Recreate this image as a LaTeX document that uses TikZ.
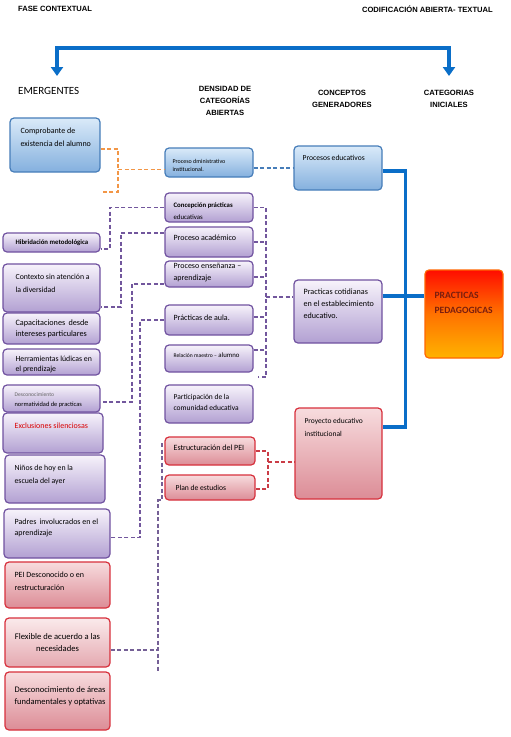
\documentclass[tikz,border=0pt]{standalone}
\usepackage{fontspec}
\setmainfont{Carlito}
\newfontfamily\headfont{Liberation Sans}
\usetikzlibrary{arrows.meta}

\definecolor{azul}{RGB}{10,110,200}
\definecolor{azulborde}{RGB}{70,125,185}
\definecolor{azulclaro}{RGB}{218,234,249}
\definecolor{azulfondo}{RGB}{132,176,222}
\definecolor{lila}{RGB}{112,82,160}
\definecolor{lilaclaro}{RGB}{247,243,251}
\definecolor{lilafondo}{RGB}{178,160,210}
\definecolor{rojo}{RGB}{215,48,60}
\definecolor{rosaclaro}{RGB}{247,220,222}
\definecolor{rosafondo}{RGB}{220,140,150}
\definecolor{naranja}{RGB}{242,150,70}
\definecolor{cafe}{RGB}{120,30,15}

\begin{document}
\begin{tikzpicture}[x=1pt, y=-1pt,
    box/.style={rounded corners=4pt, line width=1.2pt, inner sep=0pt},
    bbox/.style={box, draw=azulborde, top color=azulclaro, bottom color=azulfondo},
    pbox/.style={box, draw=lila, top color=lilaclaro, bottom color=lilafondo},
    rbox/.style={box, draw=rojo, top color=rosaclaro, bottom color=rosafondo},
    txt/.style={font=\fontsize{8}{12}\selectfont, align=left, inner sep=0pt},
    ltxt/.style={txt, anchor=west},
    intxt/.style={txt, anchor=north west},
    head/.style={font=\headfont\bfseries\fontsize{7.6}{12}\selectfont, align=center, inner sep=0pt},
    bline/.style={draw=azul, line width=3.5pt},
    barr/.style={bline, {Triangle[width=12pt,length=9pt]}-{Triangle[width=12pt,length=9pt]}},
    dsh/.style={dash pattern=on 4pt off 2.5pt, line width=1.3pt},
    odash/.style={dsh, draw=naranja},
    bdash/.style={dsh, draw=azulborde},
    pdash/.style={dsh, draw=lila!90!gray},
    gdash/.style={dsh, draw=lila!70!gray},
    rdash/.style={dsh, draw=rojo!85!gray}
]
\useasboundingbox (0,0) rectangle (511,737);

% titles
\node[head, anchor=west] (fase) at (18,9) {FASE CONTEXTUAL};
\node[head, anchor=east] (codif) at (493,9) {CODIFICACIÓN ABIERTA- TEXTUAL};
\coordinate (fl) at (57,76);
\coordinate (fr) at (449,76);
\draw[barr] (fl) |- (fr |- 0,48) -- (fr);

% column heads
\node[font=\fontsize{11}{13}\selectfont, anchor=west, inner sep=0pt] (emerg) at (18,91) {EMERGENTES};
\node[head] (densid) at (225,101) {DENSIDAD DE\\CATEGORÍAS\\ABIERTAS};
\node[head] (concept) at (342,99) {CONCEPTOS\\GENERADORES};
\node[head] (categ) at (449,99) {CATEGORIAS\\INICIALES};

% emergentes
\node[bbox, minimum width=90, minimum height=54] (compr) at (55,145) {};
\node[pbox, minimum width=97, minimum height=19] (hibrid) at (51.5,242.5) {};
\node[pbox, minimum width=97, minimum height=48] (contexto) at (51.5,288) {};
\node[pbox, minimum width=97, minimum height=31] (capac) at (51.5,328.5) {};
\node[pbox, minimum width=97, minimum height=26] (herram) at (51.5,362) {};
\node[pbox, minimum width=97, minimum height=27] (descnorm) at (51.5,398.5) {};
\node[pbox, minimum width=100, minimum height=40] (exclus) at (53,433) {};
\node[pbox, minimum width=100, minimum height=48] (ninos) at (55,479) {};
\node[pbox, minimum width=106, minimum height=49] (padres) at (57,533.5) {};
\node[rbox, minimum width=105, minimum height=46] (pei) at (57.5,585) {};
\node[rbox, minimum width=105, minimum height=49, top color=rosaclaro!60!white, bottom color=rosafondo!75!white] (flex) at (57.5,642.5) {};
\node[rbox, minimum width=105, minimum height=58] (descareas) at (57.5,701) {};

\node[intxt, font=\fontsize{8}{13}\selectfont] (comprT) at ([xshift=11pt, yshift=-10pt]compr.north west) {Comprobante de\\existencia del alumno};
\node[ltxt, font=\bfseries\fontsize{6.8}{8}\selectfont] (hibridT) at ([xshift=13pt]hibrid.west) {Hibridación metodológica};
\node[ltxt, font=\fontsize{7.8}{13}\selectfont] (contextoT) at ([xshift=13pt, yshift=4.5pt]contexto.west) {Contexto sin atención a\\la diversidad};
\node[ltxt, font=\fontsize{8.2}{10.7}\selectfont] (capacT) at ([xshift=13pt]capac.west) {Capacitaciones\, desde\\intereses particulares};
\node[ltxt, font=\fontsize{7.8}{10}\selectfont] (herramT) at ([xshift=13pt, yshift=-2pt]herram.west) {Herramientas lúdicas en\\el prendizaje};
\node[ltxt, font=\fontsize{6.4}{10.5}\selectfont] (descnormT) at ([xshift=12pt, yshift=-1.5pt]descnorm.west) {{\color{gray!80!black}\fontsize{5.6}{10.5}\selectfont Desconocimiento}\\normatividad de practicas};
\node[intxt, text=red!85!black] (exclusT) at ([xshift=12pt, yshift=-10pt]exclus.north west) {Exclusiones silenciosas};
\node[ltxt, font=\fontsize{7.8}{13.3}\selectfont] (ninosT) at ([xshift=10pt, yshift=4pt]ninos.west) {Niños de hoy en la\\escuela del ayer};
\node[ltxt, font=\fontsize{8}{11}\selectfont] (padresT) at ([xshift=11pt, yshift=6pt]padres.west) {Padres\, involucrados en el\\aprendizaje};
\node[ltxt, font=\fontsize{8}{13}\selectfont] (peiT) at ([xshift=10pt, yshift=3.5pt]pei.west) {PEI Desconocido o en\\restructuración};
\node[txt, align=center, font=\fontsize{8.6}{12}\selectfont] (flexT) at (flex.center) {Flexible de acuerdo a las\\necesidades};
\node[ltxt, font=\fontsize{8.5}{12}\selectfont] (descareasT) at ([xshift=10pt, yshift=5pt]descareas.west) {Desconocimiento de áreas\\fundamentales y optativas};

% densidad de categorias abiertas
\node[bbox, minimum width=88, minimum height=29] (admin) at (209,162.5) {};
\node[pbox, minimum width=88, minimum height=29] (concep) at (209,207.5) {};
\node[pbox, minimum width=88, minimum height=30] (acad) at (209,242) {};
\node[pbox, minimum width=88, minimum height=26] (ensen) at (209,274) {};
\node[pbox, minimum width=88, minimum height=30] (aula) at (209,320) {};
\node[pbox, minimum width=88, minimum height=27] (relac) at (209,358.5) {};
\node[pbox, minimum width=88, minimum height=38] (partic) at (209,404) {};
\node[rbox, minimum width=90, minimum height=28] (estruc) at (210,451) {};
\node[rbox, minimum width=90, minimum height=25] (plan) at (210,487.5) {};

\node[ltxt, font=\fontsize{6}{7.6}\selectfont] (adminT) at ([xshift=8pt, yshift=-3pt]admin.west) {Proceso dministrativo\\institucional.};
\node[ltxt, font=\fontsize{6.8}{11.7}\selectfont] (concepT) at ([xshift=9pt, yshift=-3.5pt]concep.west) {\textbf{Concepción prácticas}\\educativas};
\node[ltxt] (acadT) at ([xshift=9pt, yshift=4pt]acad.west) {Proceso académico};
\node[ltxt, font=\fontsize{8}{11.6}\selectfont] (ensenT) at ([xshift=9pt, yshift=1.5pt]ensen.west) {Proceso enseñanza –\\aprendizaje};
\node[ltxt] (aulaT) at ([xshift=9pt, yshift=2pt]aula.west) {Prácticas de aula.};
\node[ltxt, font=\fontsize{6.8}{9}\selectfont] (relacT) at ([xshift=9pt, yshift=3.5pt]relac.west) {{\fontsize{5.6}{9}\selectfont Relación maestro –} alumno};
\node[ltxt, font=\fontsize{7.5}{11}\selectfont] (particT) at ([xshift=9pt, yshift=1.5pt]partic.west) {Participación de la\\comunidad educativa};
\node[ltxt] (estrucT) at ([xshift=9pt, yshift=3pt]estruc.west) {Estructuración del PEI};
\node[ltxt, font=\fontsize{7.6}{12}\selectfont] (planT) at ([xshift=11pt]plan.west) {Plan de estudios};

% conceptos generadores y categoria inicial
\node[bbox, minimum width=88, minimum height=44] (procesos) at (338,168) {};
\node[pbox, minimum width=88, minimum height=63] (cotid) at (338,311.5) {};
\node[rbox, minimum width=87, minimum height=91] (proy) at (338.5,453.5) {};
\node[box, draw=orange!80!red, top color=red!90!orange, bottom color=orange!60!yellow, middle color=orange!90!red, minimum width=78, minimum height=88] (pract) at (464,314) {};

\node[intxt, font=\fontsize{7.6}{12}\selectfont] (procesosT) at ([xshift=9pt, yshift=-9.5pt]procesos.north west) {Procesos educativos};
\node[intxt, font=\fontsize{8.1}{12}\selectfont] (cotidT) at ([xshift=10pt, yshift=-9pt]cotid.north west) {Practicas cotidianas\\en el establecimiento\\educativo.};
\node[intxt, font=\fontsize{7.5}{12.7}\selectfont] (proyT) at ([xshift=10pt, yshift=-10.5pt]proy.north west) {Proyecto educativo\\institucional};
\node[intxt, font=\bfseries\fontsize{9.6}{15}\selectfont, text=cafe] (practT) at ([xshift=10pt, yshift=-23pt]pract.north west) {PRACTICAS\\PEDAGOGICAS};

% blue links
\draw[bline] ([yshift=-3pt]procesos.east) -| ([xshift=23pt, yshift=26.5pt]proy.east) -- ([yshift=26.5pt]proy.east);
\draw[bline] ([yshift=15.5pt]cotid.east) -- ([yshift=15.5pt]cotid.east -| pract.west);

% orange and blue dashes
\draw[odash] ([yshift=-4pt]compr.east) -| (118,192) -- (compr.east |- 0,192);
\draw[odash] (118,169.5) -- ([yshift=-7pt]admin.west);
\draw[bdash] (admin.east |- procesos.west) -- (procesos.west);

% purple dashes, left side
\draw[pdash] (concep.west) -| (110,249) -- ([yshift=-6.5pt]hibrid.east);
\draw[pdash] ([yshift=9pt]acad.west) -| (121,307) -- ([yshift=-19pt]contexto.east);
\draw[pdash] ([yshift=-10pt]ensen.west) -| (132,402) -- ([yshift=-3.5pt]descnorm.east);
\draw[pdash] (aula.west) -| (140,537.5) -- ([yshift=-4pt]padres.east);
\coordinate (gtop) at (162,443);
\coordinate (gbot) at (158,672);
\coordinate (fj) at (158,650);
\draw[gdash] (gtop) |- (gbot |- 0,500) -- (gbot);
\draw[gdash] ([yshift=-7.5pt]flex.east) -- (fj);

% purple dashes, right side
\coordinate (rsT) at (266,207.5);
\coordinate (rsB) at (266,377);
\draw[pdash] (concep.east) -- (rsT) -- (rsB) -- ++(-8,0);
\foreach \n/\s in {acad/0, ensen/-3, aula/3, relac/8.5}
  \draw[pdash] ([yshift=\s pt]\n.east) -- ([yshift=\s pt]\n.east -| rsT);
\draw[pdash] (rsT |- 0,297) -- ([yshift=14.5pt]cotid.west);

% red dashes
\draw[rdash] (estruc.east) -| (268,489) -- ([yshift=-1.5pt]plan.east);
\draw[rdash] (268,462) -- ([yshift=-8.5pt]proy.west);
\end{tikzpicture}
\end{document}
